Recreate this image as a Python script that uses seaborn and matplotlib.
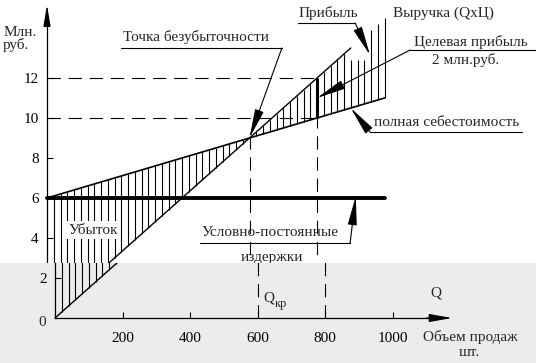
import numpy as np
import matplotlib
matplotlib.use("Agg")
import matplotlib.pyplot as plt
import seaborn as sns

# values (volume in units, money in mln rub.)
volume = [0, 600, 800, 900, 1000]
revenue = [0, 9, 12, 13.5, 15]
full_cost = [6, 9, 10, 10.5, 11]
fixed_cost = 6
fixed_end = 1000
breakeven_q, breakeven_v = 600, 9
target_q = 800
target_revenue, target_cost = 12, 10
x_ticks = [200, 400, 600, 800, 1000]
y_ticks_top = [4, 6, 8, 10, 12]
y_ticks_low = [2]

sns.set_theme(style="white")
plt.rcParams["font.family"] = ["Liberation Serif", "DejaVu Serif"]
plt.rcParams["font.size"] = 11

W, H = 536, 363
fig = plt.figure(figsize=(W / 100, H / 100), dpi=100)
fig.patch.set_facecolor("white")

# the scan is split: the lower strip is grey and shifted ~8 px to the right
ax_top = fig.add_axes([0, 100 / H, 1, 263 / H])
ax_low = fig.add_axes([0, 0, 1, 100 / H])
ax_top.set_xlim(-47 / 0.3375, (W - 47) / 0.3375)
ax_top.set_ylim(2.75, 15.9)
ax_low.set_xlim(-55 / 0.3375, (W - 55) / 0.3375)
ax_low.set_ylim(-2.25, 2.75)
ax_top.set_facecolor("white")
ax_low.set_facecolor("#ececec")

dash = (0, (12, 7))
q_hatch = np.arange(20, 1001, 20)
r_h = np.interp(q_hatch, volume, revenue)
c_h = np.interp(q_hatch, volume, full_cost)
top_h = np.maximum(r_h, c_h)
bot_h = np.minimum(r_h, c_h)
# a few hatch strokes are cut short under the "Прибыль" arrow
top_h = np.where((q_hatch > 890) & (q_hatch < 950), np.minimum(top_h, 12.9), top_h)


def draw(ax):
    ax.vlines(q_hatch, bot_h, top_h, color="black", lw=0.8)
    sns.lineplot(x=volume[:-1], y=revenue[:-1], ax=ax, color="black", lw=1.0)
    sns.lineplot(x=volume, y=full_cost, ax=ax, color="black", lw=1.2)
    sns.lineplot(x=[0, fixed_end], y=[fixed_cost, fixed_cost], ax=ax, color="black", lw=2.8)
    ax.vlines(target_q, target_cost, target_revenue, color="black", lw=2.2)
    ax.hlines([target_revenue, target_cost], 0, target_q, color="black", lw=0.8, linestyles=[dash])
    ax.vlines([breakeven_q, target_q], 0, [breakeven_v, target_revenue], color="black",
              lw=0.8, linestyles=[dash])
    for s in ["top", "right"]:
        ax.spines[s].set_visible(False)
    ax.spines["left"].set_position(("data", 0))
    ax.spines["left"].set_color("black")
    ax.spines["left"].set_linewidth(0.9)


def arrow(ax, tip, start, hl=1.8, hw=0.28, lw=0.8):
    ax.annotate("", xy=tip, xytext=start,
                arrowprops=dict(arrowstyle=f"-|>,head_length={hl},head_width={hw}",
                                color="black", lw=lw, shrinkA=0, shrinkB=0,
                                mutation_scale=10))


def leader(ax, x0, x1, y, start, tip):
    ax.plot([x0, x1], [y, y], color="black", lw=0.8)
    arrow(ax, tip, start)


draw(ax_top)
draw(ax_low)

# upper part: y axis with arrow
ax_top.spines["bottom"].set_visible(False)
ax_top.spines["left"].set_bounds(2.75, 15.0)
ax_top.set_xticks([])
ax_top.set_yticks(y_ticks_top)
ax_top.tick_params(axis="y", left=True, direction="in", length=4, width=0.8,
                   pad=6, labelsize=11, colors="black")
arrow(ax_top, (0, 15.65), (0, 14.8), hl=1.3, hw=0.22)

ax_top.text(-130, 14.3, "Млн.", ha="left", va="center", fontsize=11)
ax_top.text(-130, 13.65, "руб.", ha="left", va="center", fontsize=11)

ax_top.text(441, 14.05, "Точка безубыточности", ha="center", va="center", fontsize=11)
leader(ax_top, 219, 696, 13.5, (696, 13.5), (breakeven_q, breakeven_v))

ax_top.text(833, 15.25, "Прибыль", ha="center", va="center", fontsize=11)
leader(ax_top, 744, 913, 14.75, (913, 14.75), (957, 13.15))

ax_top.text(1176, 15.25, "Выручка (QxЦ)", ha="center", va="center", fontsize=11)

ax_top.text(1256, 13.8, "Целевая прибыль", ha="center", va="center", fontsize=11)
ax_top.text(1241, 12.9, "2 млн.руб.", ha="center", va="center", fontsize=11)
leader(ax_top, 1076, 1449, 13.4, (1076, 13.4), (target_q, 11))

ax_top.text(1185, 9.8, "полная себестоимость", ha="center", va="center", fontsize=11)
leader(ax_top, 957, 1407, 9.3, (957, 9.3), (900, 10.5))

ax_top.text(136, 4.4, "Убыток", ha="center", va="center", fontsize=11,
            bbox=dict(facecolor="white", edgecolor="none", pad=1.5))

ax_top.text(661, 4.3, "Условно-постоянные", ha="center", va="center", fontsize=11)
leader(ax_top, 453, 898, 3.75, (898, 3.75), (915, 6.1))
ax_top.text(667, 3.0, "издержки", ha="center", va="center", fontsize=11)

# lower part: x axis
ax_low.spines["left"].set_bounds(0, 2.75)
ax_low.spines["bottom"].set_position(("data", 0))
ax_low.spines["bottom"].set_bounds(0, 1130)
ax_low.spines["bottom"].set_color("black")
ax_low.spines["bottom"].set_linewidth(0.9)
ax_low.set_xticks(x_ticks)
ax_low.set_yticks(y_ticks_low)
ax_low.tick_params(axis="both", left=True, bottom=True, direction="in", length=4,
                   width=0.8, labelsize=11, colors="black")
ax_low.tick_params(axis="x", pad=10)
ax_low.tick_params(axis="y", pad=6)
arrow(ax_low, (1176, 0), (1100, 0), hl=1.4, hw=0.25)

ax_low.text(-38, -0.25, "0", ha="center", va="center", fontsize=11)
ax_low.text(617, 1.0, "Q", ha="left", va="center", fontsize=11)
ax_low.text(652, 0.7, "кр", ha="left", va="center", fontsize=9)
ax_low.text(1129, 1.25, "Q", ha="center", va="center", fontsize=11)
ax_low.text(1230, -0.95, "Объем продаж", ha="center", va="center", fontsize=11)
ax_low.text(1227, -1.75, "шт.", ha="center", va="center", fontsize=11)

fig.savefig("out.png", dpi=100)
